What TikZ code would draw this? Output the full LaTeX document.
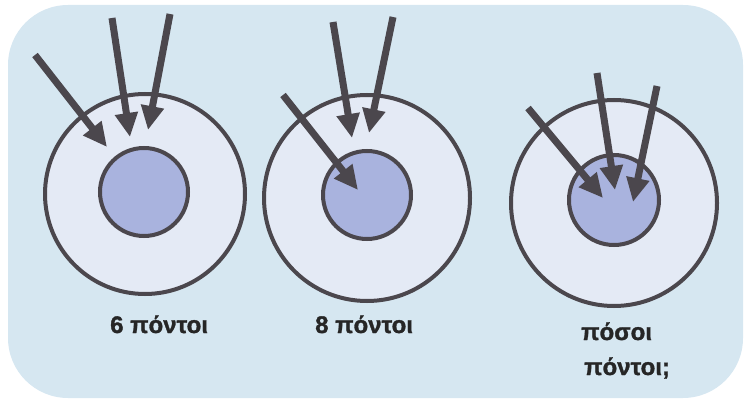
\documentclass[tikz,border=0pt]{standalone}
\usepackage{fontspec}
\setmainfont{Liberation Sans}
\newfontfamily\capfont{Liberation Sans}[BoldFeatures={FakeBold=1.3}]
\usetikzlibrary{positioning,arrows.meta}

\definecolor{panelblue}{HTML}{D6E7F1}
\definecolor{shellfill}{HTML}{E4EAF5}
\definecolor{corefill}{HTML}{A9B3DE}
\definecolor{inkgray}{HTML}{4B474D}

\begin{document}
\begin{tikzpicture}[
    x=1pt, y=-1pt,
    shell/.style={
        circle,
        draw=inkgray,
        fill=shellfill,
        line width=4pt,
        inner sep=0pt,
        minimum size=206pt
    },
    core/.style={
        circle,
        draw=inkgray,
        fill=corefill,
        line width=4pt,
        inner sep=0pt,
        minimum size=88pt
    },
    ray/.style={
        draw=inkgray,
        line width=7pt,
        -{Triangle[length=24pt,width=22pt]}
    },
    caption/.style={
        text=black!85,
        anchor=base west,
        inner sep=0pt,
        font=\capfont\fontsize{24}{28}\selectfont\bfseries
    }
]

% Panel
\useasboundingbox (0,0) rectangle (746,403);
\fill[panelblue, rounded corners=60pt] (8,5) rectangle (743,398);

% Circles
\node[shell, minimum size=200pt] (shell1) at (145,194) {};
\node[core] (core1) at (144,192) {};
\node[shell] (shell2) at (367,198) {};
\node[core] (core2) at (367,195) {};
\node[shell] (shell3) at (614,203) {};
\node[core, minimum size=90pt] (core3) at (614,200) {};

% Ray ends
\coordinate (r1a) at (35,55);   \coordinate (t1a) at (107,147);
\coordinate (r1b) at (112,18);  \coordinate (t1b) at (130,137);
\coordinate (r1c) at (170,14);  \coordinate (t1c) at (148,130);
\coordinate (r2a) at (283,95);  \coordinate (t2a) at (358,190);
\coordinate (r2b) at (333,22);  \coordinate (t2b) at (352,138);
\coordinate (r2c) at (393,17);  \coordinate (t2c) at (369,133);
\coordinate (r3a) at (528,108); \coordinate (t3a) at (603,198);
\coordinate (r3b) at (597,73);  \coordinate (t3b) at (615,190);
\coordinate (r3c) at (657,86);  \coordinate (t3c) at (633,202);

% Rays
\draw[ray] (r1a) -- (t1a);
\draw[ray] (r1b) -- (t1b);
\draw[ray] (r1c) -- (t1c);
\draw[ray] (r2a) -- (t2a);
\draw[ray] (r2b) -- (t2b);
\draw[ray] (r2c) -- (t2c);
\draw[ray] (r3a) -- (t3a);
\draw[ray] (r3b) -- (t3b);
\draw[ray] (r3c) -- (t3c);

% Captions
\node[caption] (cap1) at (110,333) {6 πόντοι};
\node[caption] (cap2) at (315,333) {8 πόντοι};
\node[caption] (cap3) at (581,340) {πόσοι};
\node[caption] (cap4) at (584,375) {πόντοι;};

\end{tikzpicture}
\end{document}
